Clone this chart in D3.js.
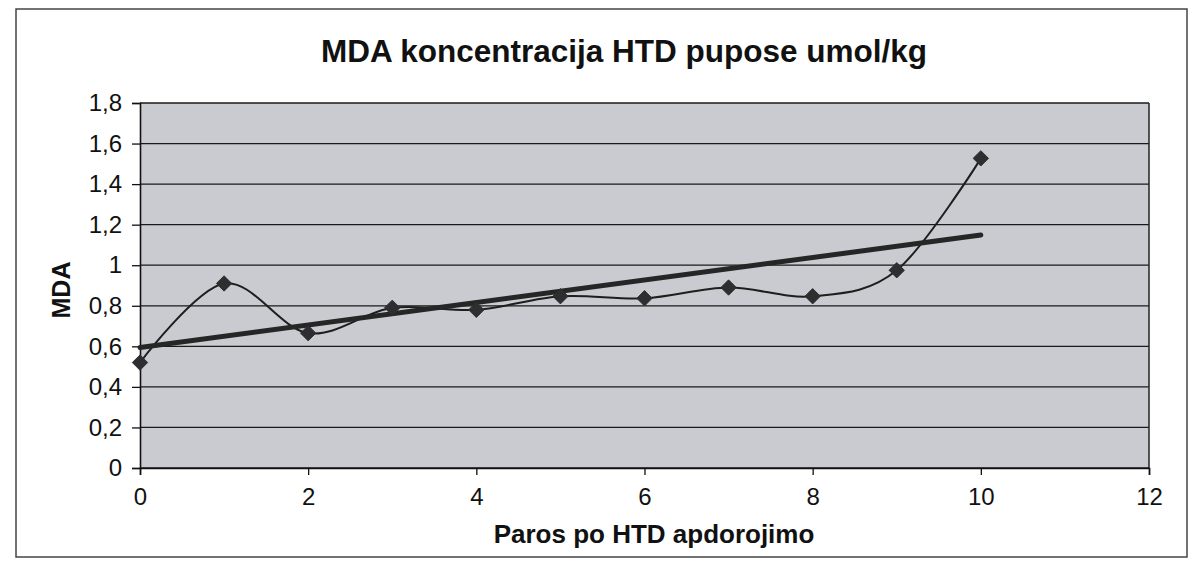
<!DOCTYPE html>
<html>
<head>
<meta charset="utf-8">
<script src="https://cdn.jsdelivr.net/npm/d3@7"></script>
<style>
  body { margin: 0; background: #fff; }
  svg { display: block; font-family: Arial, "Liberation Sans", sans-serif; }
</style>
</head>
<body>
<svg id="chart"></svg>
<script>
const chartTitle = 'MDA koncentracija HTD pupose umol/kg';
const xTitle = 'Paros po HTD apdorojimo';
const yTitle = 'MDA';

const xValues = [0, 1, 2, 3, 4, 5, 6, 7, 8, 9, 10];
const mdaValues = [0.52, 0.91, 0.665, 0.79, 0.78, 0.847, 0.837, 0.89, 0.847, 0.975, 1.527];

const xTicks = [0, 2, 4, 6, 8, 10, 12];
const yTicks = [0, 0.2, 0.4, 0.6, 0.8, 1, 1.2, 1.4, 1.6, 1.8];
const yTickLabels = ['0', '0,2', '0,4', '0,6', '0,8', '1', '1,2', '1,4', '1,6', '1,8'];

const width = 1194;
const height = 563;
const plot = { left: 140, right: 1149, top: 103, bottom: 468 };

const svg = d3.select('#chart').attr('width', width).attr('height', height);

// outer chart border
svg.append('rect')
  .attr('x', 16).attr('y', 9)
  .attr('width', 1171).attr('height', 548)
  .attr('fill', '#fff')
  .attr('stroke', '#444')
  .attr('stroke-width', 1.5);

const xScale = d3.scaleLinear().domain([0, 12]).range([plot.left, plot.right]);
const yScale = d3.scaleLinear().domain([0, 1.8]).range([plot.bottom, plot.top]);

// plot area
svg.append('rect')
  .attr('x', plot.left).attr('y', plot.top)
  .attr('width', plot.right - plot.left)
  .attr('height', plot.bottom - plot.top)
  .attr('fill', '#cacbd0');

// gridlines
svg.append('g')
  .selectAll('line')
  .data(yTicks)
  .enter()
  .append('line')
  .attr('x1', plot.left).attr('x2', plot.right)
  .attr('y1', d => yScale(d)).attr('y2', d => yScale(d))
  .attr('stroke', '#1a1a1a')
  .attr('stroke-width', 1.3);

// right border of plot
svg.append('line')
  .attr('x1', plot.right).attr('x2', plot.right)
  .attr('y1', plot.top).attr('y2', plot.bottom)
  .attr('stroke', '#222').attr('stroke-width', 1.5);

const yAxis = d3.axisLeft(yScale)
  .tickValues(yTicks)
  .tickFormat((d, i) => yTickLabels[i])
  .tickSize(8)
  .tickPadding(10);

const yAxisG = svg.append('g')
  .attr('transform', `translate(${plot.left}, 0)`)
  .call(yAxis);

const xAxis = d3.axisBottom(xScale)
  .tickValues(xTicks)
  .tickFormat(d3.format('d'))
  .tickSize(7)
  .tickPadding(13);

const xAxisG = svg.append('g')
  .attr('transform', `translate(0, ${plot.bottom})`)
  .call(xAxis);

[yAxisG, xAxisG].forEach(g => {
  g.attr('font-family', 'Arial, "Liberation Sans", sans-serif').attr('font-size', 24);
  g.select('.domain').attr('stroke', '#111').attr('stroke-width', 1.6);
  g.selectAll('.tick line').attr('stroke', '#111').attr('stroke-width', 1.3);
  g.selectAll('.tick text').attr('fill', '#111');
});

// trendline (linear least squares, like Excel)
const n = xValues.length;
const mx = d3.mean(xValues);
const my = d3.mean(mdaValues);
let sxy = 0, sxx = 0;
for (let i = 0; i < n; i++) {
  sxy += (xValues[i] - mx) * (mdaValues[i] - my);
  sxx += (xValues[i] - mx) * (xValues[i] - mx);
}
const slope = sxy / sxx;
const intercept = my - slope * mx;
const trend = [xValues[0], xValues[n - 1]].map(x => ({ x: x, y: intercept + slope * x }));

const points = xValues.map((x, i) => ({ x: x, y: mdaValues[i] }));

// smoothed data line
const smoothLine = d3.line()
  .x(d => xScale(d.x))
  .y(d => yScale(d.y))
  .curve(d3.curveCatmullRom.alpha(0));

svg.append('path')
  .datum(points)
  .attr('d', smoothLine)
  .attr('fill', 'none')
  .attr('stroke', '#1e1e1e')
  .attr('stroke-width', 2);

svg.append('path')
  .datum(trend)
  .attr('d', d3.line().x(d => xScale(d.x)).y(d => yScale(d.y)))
  .attr('fill', 'none')
  .attr('stroke', '#262626')
  .attr('stroke-width', 5)
  .attr('stroke-linecap', 'round');

// diamond markers
svg.append('g')
  .selectAll('path')
  .data(points)
  .enter()
  .append('path')
  .attr('d', d3.symbol().type(d3.symbolDiamond2).size(150))
  .attr('transform', d => `translate(${xScale(d.x)}, ${yScale(d.y)})`)
  .attr('fill', '#2e2e30')
  .attr('stroke', '#2e2e30')
  .attr('stroke-width', 1);

// titles
svg.append('text')
  .attr('x', 624).attr('y', 62)
  .attr('text-anchor', 'middle')
  .style('font-size', '31.5px')
  .style('font-weight', 'bold')
  .attr('fill', '#111')
  .text(chartTitle);

svg.append('text')
  .attr('x', 654).attr('y', 543)
  .attr('text-anchor', 'middle')
  .style('font-size', '26px')
  .style('font-weight', 'bold')
  .attr('fill', '#111')
  .text(xTitle);

svg.append('text')
  .attr('transform', 'translate(70, 290) rotate(-90)')
  .attr('text-anchor', 'middle')
  .style('font-size', '25px')
  .style('font-weight', 'bold')
  .attr('fill', '#111')
  .text(yTitle);
</script>
</body>
</html>
